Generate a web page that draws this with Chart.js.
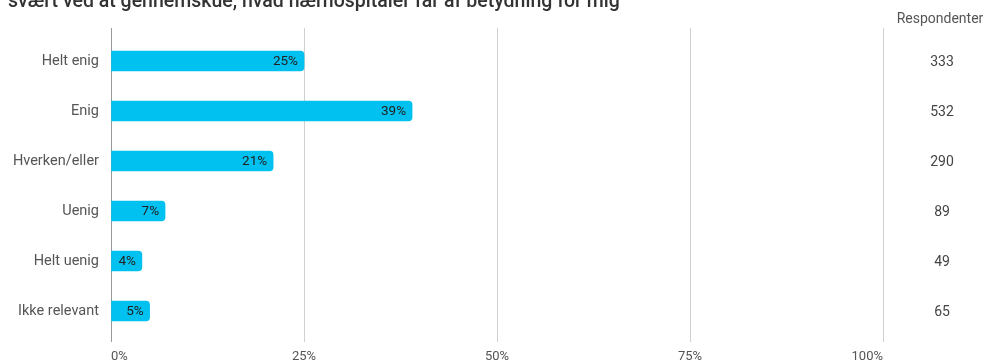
<!DOCTYPE html>
<html lang="da">
<head>
  <meta charset="UTF-8">
  <title>Nærhospitaler</title>
  <script src="https://cdn.jsdelivr.net/npm/chart.js"></script>
  <style>
    html, body {
      margin: 0;
      padding: 0;
      background: #fff;
    }
    #wrap {
      width: 988px;
      height: 362px;
      position: relative;
    }
  </style>
</head>
<body>
  <div id="wrap">
    <canvas id="grafik"></canvas>
  </div>

  <script>
    const titel = 'Jeg har svært ved at gennemskue, hvad nærhospitaler får af betydning for mig';
    const svar = ['Helt enig', 'Enig', 'Hverken/eller', 'Uenig', 'Helt uenig', 'Ikke relevant'];
    const andel = [25, 39, 21, 7, 4, 5];
    const respondenter = [333, 532, 290, 89, 49, 65];
    const xTicks = [0, 25, 50, 75, 100];

    const FONT = 'Roboto, "Noto Sans", sans-serif';

    // procenttal inde i søjlerne, kolonnen med antal respondenter og overskriften
    const tekster = {
      id: 'tekster',
      afterDatasetsDraw(chart) {
        const { ctx, chartArea } = chart;
        const meta = chart.getDatasetMeta(0);
        const y = chart.scales.y;
        ctx.save();

        ctx.font = '13.5px ' + FONT;
        ctx.fillStyle = '#222';
        ctx.textAlign = 'right';
        ctx.textBaseline = 'middle';
        meta.data.forEach((bar, i) => {
          ctx.fillText(andel[i] + '%', bar.x - 6, bar.y + 1);
        });

        const kolX = chartArea.right + 59;
        ctx.font = '14px ' + FONT;
        ctx.textAlign = 'center';
        ctx.fillStyle = '#444';
        respondenter.forEach((n, i) => {
          ctx.fillText(String(n), kolX, y.getPixelForValue(i) + 1);
        });
        ctx.fillStyle = '#555';
        ctx.fillText('Respondenter', kolX - 2, 19);

        ctx.font = '500 19.5px ' + FONT;
        ctx.fillStyle = '#333';
        ctx.textAlign = 'left';
        ctx.textBaseline = 'alphabetic';
        const start = 8 - ctx.measureText('Jeg har ').width;
        ctx.fillText(titel, start, 7);

        ctx.restore();
      }
    };

    function tegnGrafik() {
      const ctx = document.getElementById('grafik').getContext('2d');

      new Chart(ctx, {
        type: 'bar',
        data: {
          datasets: [{
            data: andel.map((v, i) => ({ x: v, y: i })),
            backgroundColor: '#00c1ef',
            borderWidth: 0,
            borderRadius: 4,
            barThickness: 20
          }]
        },
        options: {
          indexAxis: 'y',
          responsive: true,
          maintainAspectRatio: false,
          animation: false,
          layout: {
            padding: { top: 28, right: 105, left: 0, bottom: 0 }
          },
          plugins: {
            legend: { display: false },
            tooltip: { enabled: false }
          },
          scales: {
            x: {
              type: 'linear',
              min: 0,
              max: 100,
              afterBuildTicks: (s) => { s.ticks = xTicks.map((v) => ({ value: v })); },
              afterFit: (s) => { s.height = 20; },
              ticks: {
                callback: (v) => v + '%',
                align: 'inner',
                padding: 7,
                color: '#555',
                font: { family: FONT, size: 13 }
              },
              grid: {
                drawTicks: false,
                color: (c) => (c.tick && c.tick.value === 0 ? '#999' : '#d0d0d0')
              },
              border: { display: false }
            },
            y: {
              type: 'linear',
              reverse: true,
              offset: false,
              min: -0.66,
              max: 5.62,
              afterBuildTicks: (s) => { s.ticks = svar.map((_, i) => ({ value: i })); },
              afterFit: (s) => { s.width = 111; },
              ticks: {
                callback: (v) => svar[v],
                padding: 4,
                color: '#555',
                font: { family: FONT, size: 14.5 }
              },
              grid: { display: false, offset: false },
              border: { display: false }
            }
          }
        },
        plugins: [tekster]
      });
    }

    document.addEventListener('DOMContentLoaded', tegnGrafik);
  </script>
</body>
</html>
